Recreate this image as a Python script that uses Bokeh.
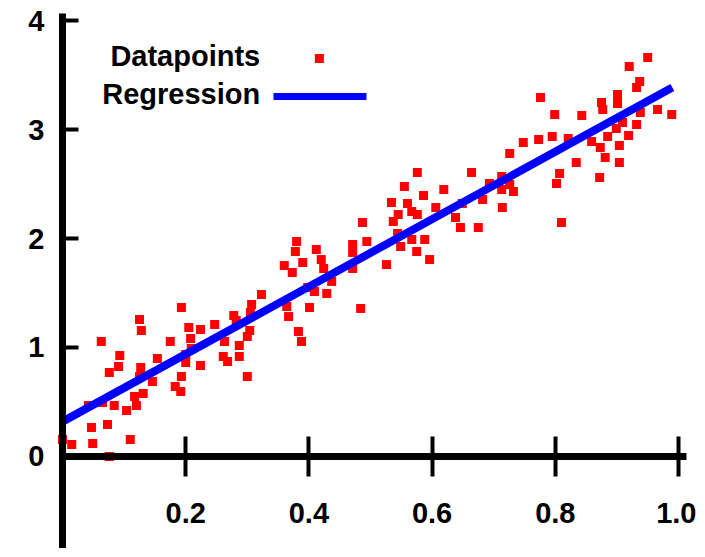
from bokeh.plotting import figure
from bokeh.models import Range1d, FixedTicker, Label
from bokeh.embed import file_html
from bokeh.resources import INLINE

# ---- data ----
pts_x = [0.125, 0.128, 0.063, 0.175, 0.093, 0.091, 0.076, 0.154, 0.127, 0.125,
         0.146, 0.183, 0.117, 0.131, 0.065, 0.042, 0.084, 0.104, 0.120, 0.073,
         0.047, 0.015, 0.049, 0.110, 0.000, 0.076,
         0.323, 0.307, 0.305, 0.193, 0.278, 0.282, 0.247, 0.205, 0.224, 0.304,
         0.300, 0.208, 0.263, 0.209, 0.287, 0.200, 0.200, 0.261, 0.287, 0.268,
         0.224, 0.193, 0.192, 0.300,
         0.487, 0.380, 0.378, 0.412, 0.420, 0.424, 0.471, 0.471, 0.494, 0.360,
         0.390, 0.373, 0.471, 0.437, 0.398, 0.409, 0.429, 0.364, 0.367, 0.401,
         0.484, 0.383, 0.388,
         0.576, 0.664, 0.555, 0.619, 0.586, 0.534, 0.560, 0.567, 0.606, 0.649,
         0.682, 0.545, 0.537, 0.576, 0.638, 0.646, 0.675, 0.544, 0.567, 0.588,
         0.549, 0.575, 0.596, 0.526,
         0.776, 0.799, 0.843, 0.795, 0.821, 0.773, 0.748, 0.726, 0.834, 0.807,
         0.802, 0.713, 0.726, 0.713, 0.732, 0.693, 0.714, 0.810,
         0.950, 0.920, 0.937, 0.932, 0.901, 0.901, 0.875, 0.877, 0.966, 0.989,
         0.938, 0.909, 0.899, 0.932, 0.885, 0.919, 0.859, 0.873, 0.904, 0.881,
         0.904, 0.872]
pts_y = [1.257, 1.156, 1.055, 1.055, 0.927, 0.826, 0.771, 0.899, 0.817, 0.734,
         0.688, 0.642, 0.550, 0.578, 0.495, 0.468, 0.468, 0.422, 0.468, 0.294,
         0.266, 0.110, 0.119, 0.156, 0.156, 0.000,
         1.486, 1.394, 1.321, 1.367, 1.294, 1.248, 1.211, 1.183, 1.165, 1.156,
         1.101, 1.083, 1.055, 0.991, 1.018, 0.936, 0.862, 0.917, 0.917, 0.872,
         0.835, 0.734, 0.596, 0.734,
         2.147, 1.972, 1.881, 1.899, 1.807, 1.725, 1.945, 1.872, 1.972, 1.752,
         1.780, 1.688, 1.725, 1.606, 1.550, 1.514, 1.495, 1.376, 1.284, 1.367,
         1.358, 1.147, 1.055,
         2.606, 2.606, 2.477, 2.450, 2.394, 2.330, 2.321, 2.248, 2.284, 2.321,
         2.358, 2.220, 2.156, 2.220, 2.193, 2.101, 2.101, 2.046, 1.991, 1.991,
         1.927, 1.881, 1.807, 1.761,
         3.294, 3.138, 3.128, 2.936, 2.917, 2.908, 2.881, 2.780, 2.697, 2.596,
         2.505, 2.569, 2.495, 2.450, 2.431, 2.505, 2.284, 2.147,
         3.661, 3.578, 3.440, 3.385, 3.321, 3.239, 3.248, 3.183, 3.183, 3.138,
         3.156, 3.064, 3.009, 3.046, 2.936, 2.945, 2.890, 2.835, 2.853, 2.743,
         2.697, 2.560]

reg_x = [0.0, 0.99]
reg_y = [0.32, 3.385]

x_ticks = [0.2, 0.4, 0.6, 0.8, 1.0]
x_tick_labels = ["0.2", "0.4", "0.6", "0.8", "1.0"]
y_ticks = [0, 1, 2, 3, 4]
y_tick_labels = ["0", "1", "2", "3", "4"]

legend_labels = ["Datapoints", "Regression"]

FONT = "Liberation Sans"
RED = "#ff0000"
BLUE = "#0000ff"

p = figure(width=696, height=548, output_backend="svg", toolbar_location=None,
           x_range=Range1d(-0.10065, 1.02922), y_range=Range1d(-0.84404, 4.18349),
           min_border=0)
p.outline_line_color = None
p.xgrid.visible = False
p.ygrid.visible = False
p.background_fill_color = "white"
p.border_fill_color = "white"

p.scatter(pts_x, pts_y, marker="square", size=9, fill_color=RED, line_color=None)
p.line(reg_x, reg_y, line_color=BLUE, line_width=8)

for ax in (p.xaxis[0], p.yaxis[0]):
    ax.fixed_location = 0
    ax.axis_line_width = 7
    ax.axis_line_color = "black"
    ax.major_tick_line_color = "black"
    ax.major_tick_line_width = 4
    ax.minor_tick_line_color = None
    ax.major_label_text_font = FONT
    ax.major_label_text_font_style = "bold"
    ax.major_label_text_font_size = "29px"
    ax.major_label_text_color = "black"

xa = p.xaxis[0]
xa.ticker = FixedTicker(ticks=x_ticks)
xa.major_label_overrides = {t: l for t, l in zip(x_ticks, x_tick_labels)}
xa.bounds = (0, 1.013)
xa.major_tick_in = 20
xa.major_tick_out = 20
xa.major_label_standoff = 27

ya = p.yaxis[0]
ya.ticker = FixedTicker(ticks=y_ticks)
ya.major_label_overrides = {t: l for t, l in zip(y_ticks, y_tick_labels)}
ya.bounds = (-0.85, 4.06)
ya.major_tick_in = 16
ya.major_tick_out = 0
ya.major_label_standoff = 18

# legend (text on the left, sample on the right, as in the reference)
lx_text = 0.321
ly = [3.670, 3.330]
for lab, yy in zip(legend_labels, ly):
    p.add_layout(Label(x=lx_text, y=yy, text=lab, text_align="right",
                       text_baseline="middle", text_font=FONT,
                       text_font_style="bold", text_font_size="29px",
                       text_color="black"))
p.scatter([0.417], [3.651], marker="square", size=9, fill_color=RED, line_color=None)
p.line([0.3425, 0.4935], [3.303, 3.303], line_color=BLUE, line_width=7)

open("out.html", "w").write(file_html(p, INLINE))
